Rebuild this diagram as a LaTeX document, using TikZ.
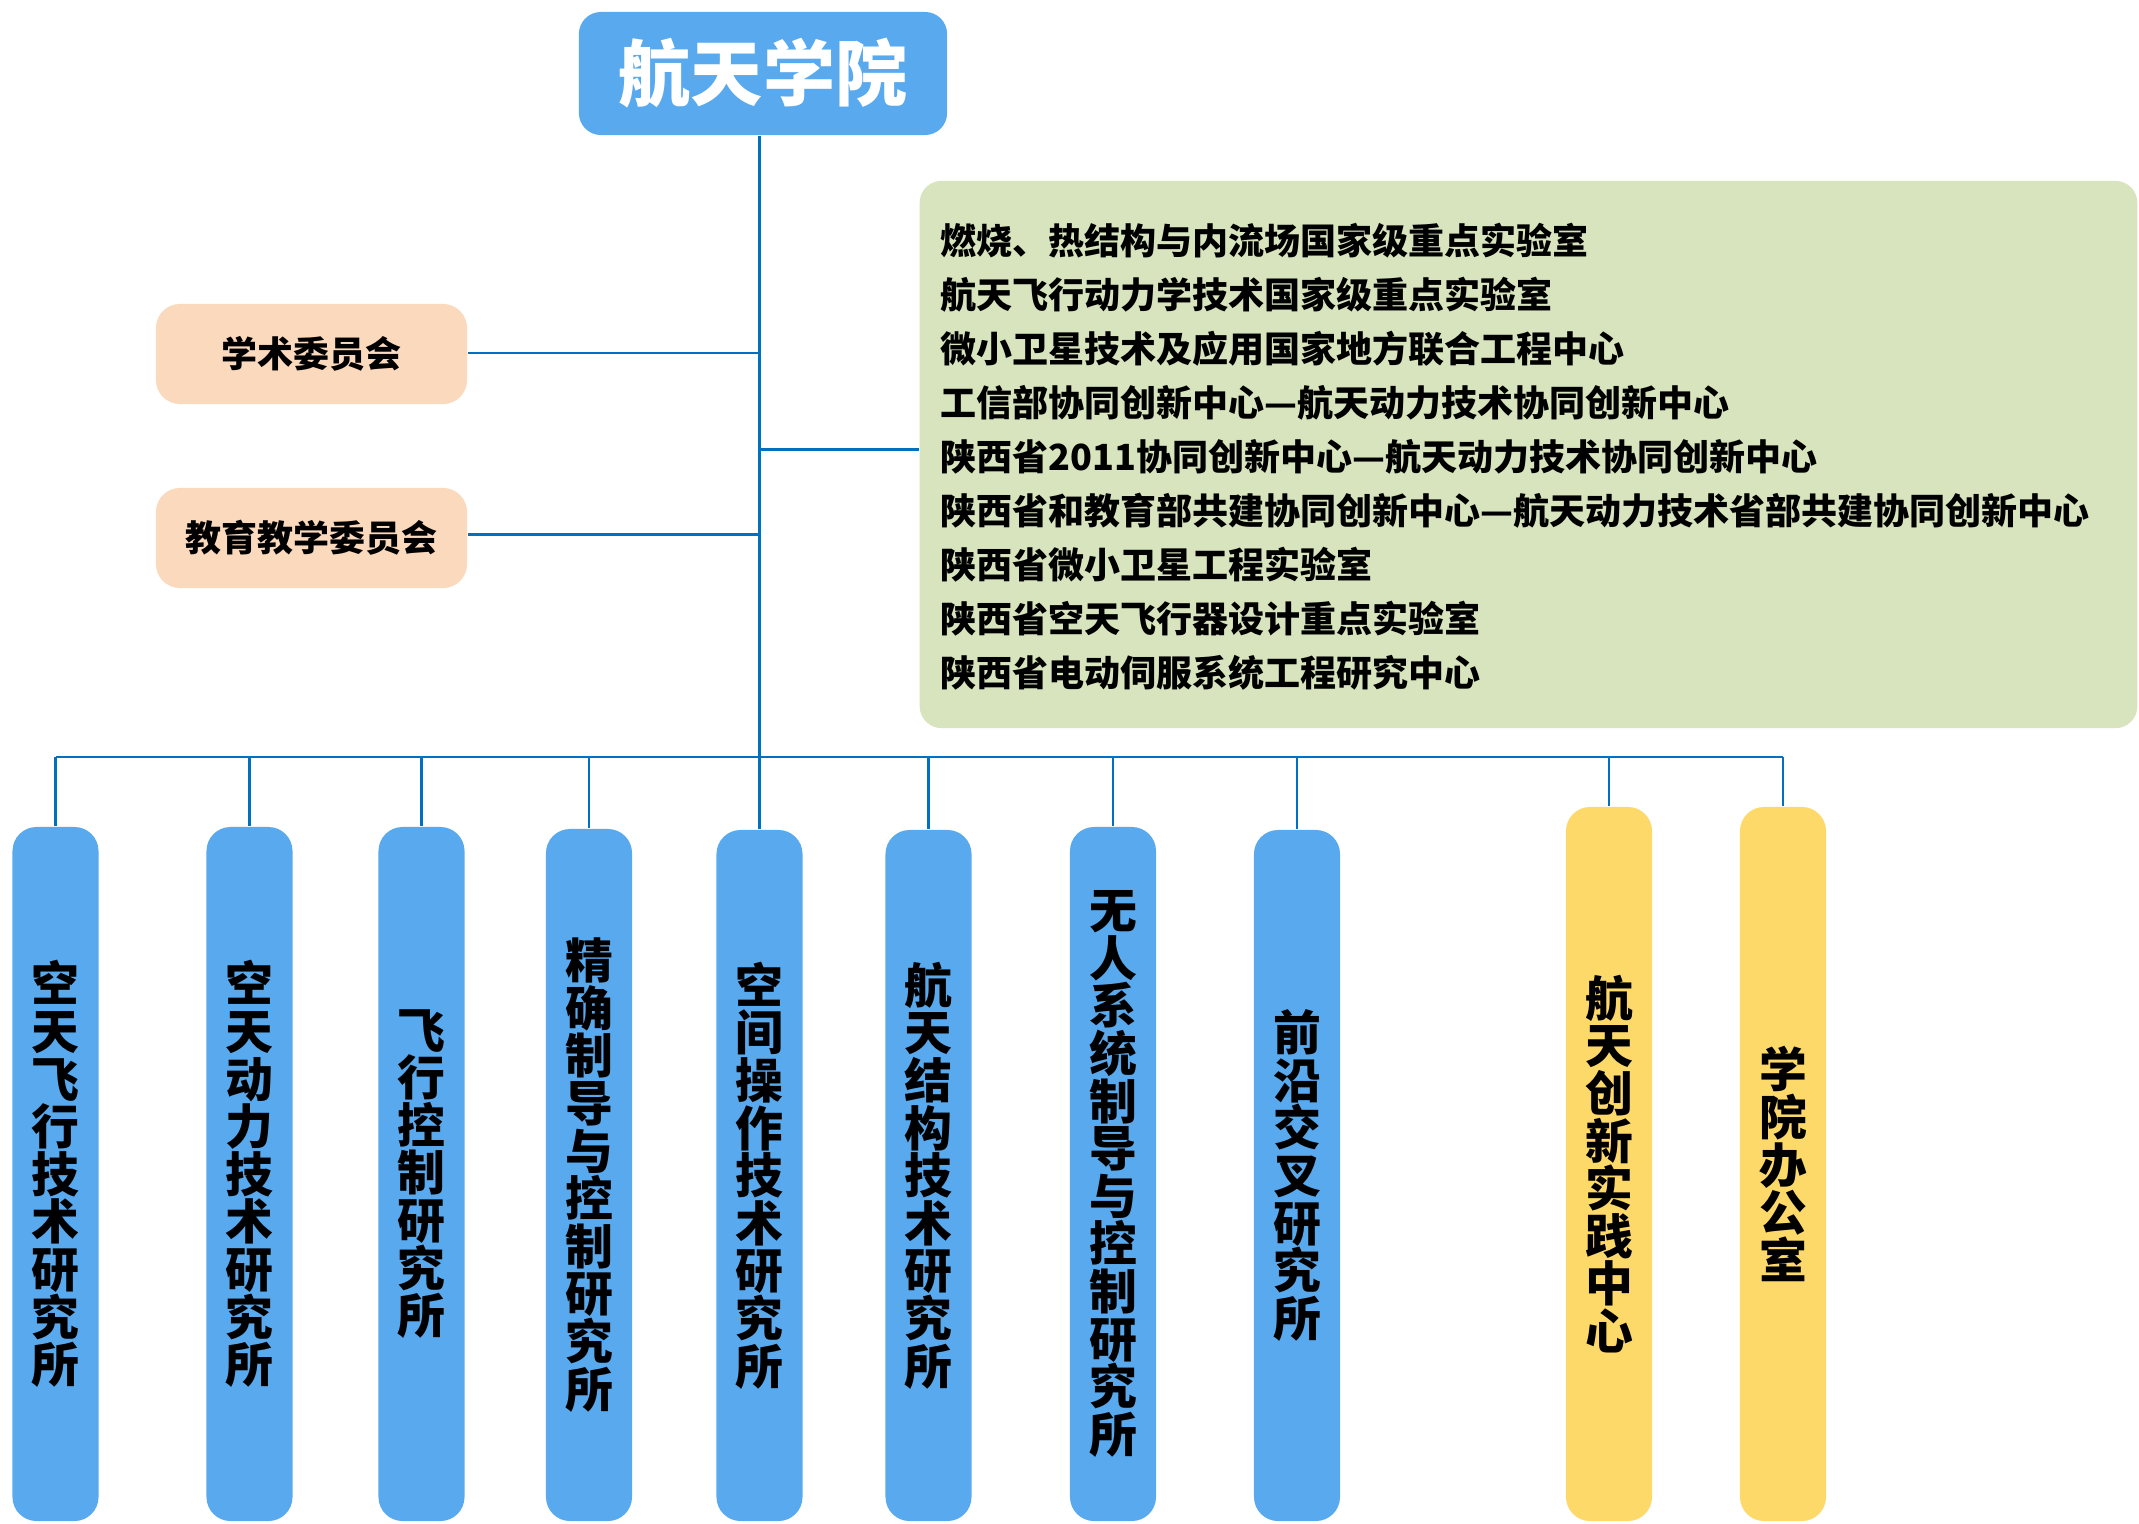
\documentclass[tikz,border=0pt]{standalone}
\usepackage{fontspec}
\newfontfamily\cjk{Noto Sans CJK SC}
\usetikzlibrary{calc}
\definecolor{boxblue}{RGB}{88,169,238}
\definecolor{linkblue}{RGB}{0,112,192}
\definecolor{peach}{RGB}{251,217,188}
\definecolor{sand}{RGB}{253,217,106}
\definecolor{sage}{RGB}{215,228,189}
\tikzset{
  barbox/.style={rectangle, rounded corners=0.24cm, minimum width=0.86cm, inner sep=0pt, draw=none},
  bartext/.style={align=center, inner sep=0pt, text=black, font=\cjk\bfseries\fontsize{13.6pt}{13.54pt}\selectfont},
  link/.style={draw=linkblue, line width=0.85pt},
  buslink/.style={draw=linkblue, line width=0.6pt},
  committee/.style={rectangle, fill=peach, rounded corners=0.24cm, minimum width=3.11cm, minimum height=1.0cm, inner sep=0pt, font=\cjk\bfseries\fontsize{10.24pt}{12pt}\selectfont},
}
\newcommand\mkbar[5]{%
  \pgfmathsetmacro\bcy{(#3+1521)/2}%
  \pgfmathsetmacro\bh{(1521-#3)*0.01}%
  \node[barbox, fill=#4, minimum height=\bh cm] (#1) at (#2,\bcy) {};
  \node[bartext] (#1t) at (#1.center) {#5};
  \draw[buslink] (#1.north |- busl) -- (#1.north);
}
\begin{document}
\begin{tikzpicture}[x=0.01cm, y=-0.01cm]
\useasboundingbox[fill=white] (0,0) rectangle (2139,1524);
% hub coordinates
\coordinate (hub) at (759,757);
\coordinate (busl) at (55.5,757);
\coordinate (busr) at (1783,757);
% title
\node[rectangle, fill=boxblue, rounded corners=0.22cm, minimum width=3.68cm, minimum height=1.23cm, inner sep=0pt, text=white, font=\cjk\bfseries\fontsize{20.5pt}{24pt}\selectfont] (title) at (763,73.5) {航天学院};
% committees
\node[committee] (c1) at (311.5,354) {学术委员会};
\node[committee] (c2) at (311.5,538) {教育教学委员会};
% green box
\node[rectangle, fill=sage, rounded corners=0.22cm, minimum width=12.17cm, minimum height=5.47cm, inner sep=0pt] (green) at (1528.5,454.5) {};
\node[anchor=west, align=left, inner sep=0pt, font=\cjk\bfseries\fontsize{10.24pt}{15.34pt}\selectfont] (labs) at (940,456.5) {燃烧、热结构与内流场国家级重点实验室\\
航天飞行动力学技术国家级重点实验室\\
微小卫星技术及应用国家地方联合工程中心\\
工信部协同创新中心—航天动力技术协同创新中心\\
陕西省2011协同创新中心—航天动力技术协同创新中心\\
陕西省和教育部共建协同创新中心—航天动力技术省部共建协同创新中心\\
陕西省微小卫星工程实验室\\
陕西省空天飞行器设计重点实验室\\
陕西省电动伺服系统工程研究中心};
% connector anchor points
\coordinate (c1p) at ($(c1.east)+(0,-1)$);
\coordinate (c2p) at ($(c2.east)+(0,-4)$);
\coordinate (gp) at ($(green.west)+(0,-5.5)$);
% connectors
\draw[link] (title.south -| hub) -- (hub);
\draw[link] (c1p) -- (c1p -| hub);
\draw[link] (c2p) -- (c2p -| hub);
\draw[link] (gp -| hub) -- (gp);
\draw[buslink] (busl) -- (busr);
% bars
\mkbar{b1}{55.5}{827}{boxblue}{空\\天\\飞\\行\\技\\术\\研\\究\\所}
\mkbar{b2}{249.5}{827}{boxblue}{空\\天\\动\\力\\技\\术\\研\\究\\所}
\mkbar{b3}{421.5}{827}{boxblue}{飞\\行\\控\\制\\研\\究\\所}
\mkbar{b4}{589}{829}{boxblue}{精\\确\\制\\导\\与\\控\\制\\研\\究\\所}
\mkbar{b5}{759.5}{830}{boxblue}{空\\间\\操\\作\\技\\术\\研\\究\\所}
\mkbar{b6}{928.5}{830}{boxblue}{航\\天\\结\\构\\技\\术\\研\\究\\所}
\mkbar{b7}{1113}{827}{boxblue}{无\\人\\系\\统\\制\\导\\与\\控\\制\\研\\究\\所}
\mkbar{b8}{1297}{830}{boxblue}{前\\沿\\交\\叉\\研\\究\\所}
\mkbar{b9}{1609}{807}{sand}{航\\天\\创\\新\\实\\践\\中\\心}
\mkbar{b10}{1783}{807}{sand}{学\\院\\办\\公\\室}
\end{tikzpicture}
\end{document}
